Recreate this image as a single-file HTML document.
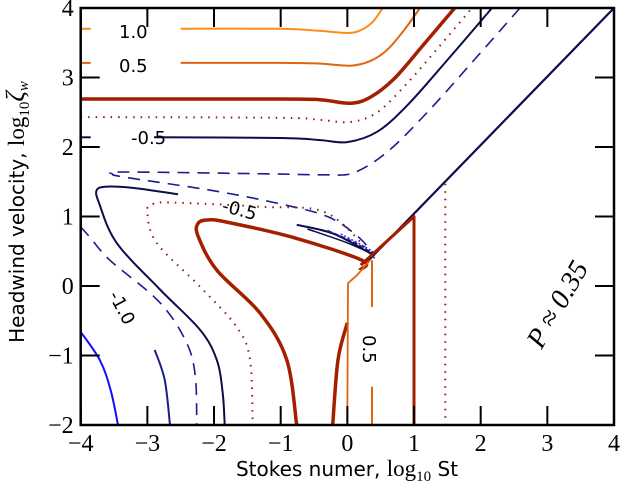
<!DOCTYPE html>
<html><head><meta charset="utf-8"><style>
html,body{margin:0;padding:0;background:#fff;}
svg{display:block;}
.tick{font-family:"Liberation Serif",serif;font-size:24px;fill:#000;}
.ttl{font-family:"DejaVu Sans","Liberation Sans",sans-serif;font-size:20px;fill:#000;}
.lbl{font-family:"DejaVu Sans","Liberation Sans",sans-serif;font-size:18px;fill:#000;}
</style></head><body>
<svg id="chart" width="621" height="488" viewBox="0 0 621 488"></svg>
<script>
// axis ranges
const xDomain = [-4, 4];
const yDomain = [-2, 4];
const xTicks = [-4, -3, -2, -1, 0, 1, 2, 3, 4];
const yTicks = [-2, -1, 0, 1, 2, 3, 4];
// contour lines in data coords [log10 St, log10 zeta]
const c1p0a = [[-4,3.70],[-3.85,3.70]];
const c1p0b = [[-2.5,3.70],[-1,3.70],[-0.41,3.67],[0.0,3.64],[0.2,3.68],[0.38,3.8],[0.53,4.0]];
const c0p5a = [[-4,3.21],[-3.85,3.21]];
const c0p5b = [[-2.5,3.21],[-1,3.21],[-0.41,3.20],[0.05,3.17],[0.35,3.24],[0.6,3.4],[0.85,3.68],[1.09,4.0]];
const cThickTop = [[-4,2.69],[-1,2.69],[-0.41,2.68],[0.05,2.63],[0.35,2.72],[0.7,2.98],[1.15,3.48],[1.61,4.0]];
const cDotTop = [[-4,2.43],[-1,2.42],[-0.41,2.39],[0.05,2.36],[0.45,2.5],[0.9,2.92],[1.4,3.47],[1.87,4.0]];
const cNavyTopA = [[-4,2.14],[-3.85,2.14]];
const cNavyTopB = [[-2.9,2.14],[-1,2.13],[-0.41,2.10],[0.0,2.07],[0.45,2.22],[0.9,2.6],[1.5,3.25],[2.17,4.0]];
const cDashLoop = [[2.59,4.0],[1.9,3.25],[1.2,2.5],[0.6,1.93],[0.1,1.63],[-0.3,1.60],[-1,1.61],[-3.3,1.64],[-3.52,1.61],[-3.3,1.56],[-2.0,1.37],[-1.0,1.18],[-0.3,1.0],[0.15,0.72],[0.4,0.45]];
const cNavyLoopA = [[0.38,0.45],[-0.2,0.75],[-0.76,0.88]];
const cNavyLoopB = [[-2.54,1.32],[-3.2,1.41],[-3.6,1.43],[-3.76,1.38],[-3.72,1.18],[-3.46,0.62],[-2.81,-0.05],[-2.21,-0.63],[-1.96,-1.06],[-1.87,-1.54],[-1.84,-2.0]];
const cDashLeft = [[-4,0.85],[-3.86,0.70],[-3.56,0.37],[-2.81,-0.24],[-2.41,-0.82],[-2.28,-1.31],[-2.26,-2.0]];
const cBlue1 = [[-4,-0.66],[-3.71,-1.07],[-3.55,-1.5],[-3.44,-2.0]];
const cBlue2 = [[-2.89,-0.92],[-2.74,-1.35],[-2.66,-2.0]];
const cDotLoop = [[0.41,0.40],[-0.31,1.05],[-1.31,1.14],[-2.6,1.2],[-2.92,1.18],[-3.0,1.06],[-2.86,0.62],[-2.21,-0.01],[-1.66,-0.59],[-1.46,-1.06],[-1.42,-2.0]];
const cThickLoop = [[0.19,0.23],[0.22,0.37],[-0.82,0.70],[-1.81,0.92],[-2.1,0.95],[-2.24,0.9],[-2.24,0.72],[-1.96,0.23],[-1.31,-0.39],[-0.91,-1.06],[-0.76,-2.0]];
const cThickInner = [[-0.22,-2.0],[-0.14,-1.06],[0.0,-0.53]];
const cThickDiag = [[0.2,0.3],[1.0,1.0],[1.0,-2.0]];
const cOrange1 = [[0.0,-2.0],[0.01,0.04],[0.15,0.16],[0.34,0.37]];
const cOrange2a = [[0.37,0.37],[0.37,-0.3]];
const cOrange2b = [[0.37,-1.45],[0.37,-2.0]];
const cDotVert = [[1.47,1.47],[1.47,-2.0]];
const cDiag = [[0.3,0.35],[4.0,4.0]];
const cFan1 = [[-0.6,0.82],[0.0,0.62],[0.4,0.45]];
const cFan2 = [[-0.3,0.8],[0.1,0.63],[0.4,0.46]];
const cFan3 = [[-0.1,0.75],[0.2,0.6],[0.42,0.47]];

const L=80.7, R=614, T=8, B=425;
function xs(v){return L+(v-xDomain[0])/(xDomain[1]-xDomain[0])*(R-L);}
function ys(v){return B-(v-yDomain[0])/(yDomain[1]-yDomain[0])*(B-T);}
const svg=document.getElementById('chart');
const NS='http://www.w3.org/2000/svg';
function mk(tag,attrs){const e=document.createElementNS(NS,tag);for(const k in attrs)e.setAttribute(k,attrs[k]);svg.appendChild(e);return e;}
function smoothPath(pts){
  const p=pts.map(q=>[xs(q[0]),ys(q[1])]);
  let d='M'+p[0][0].toFixed(1)+','+p[0][1].toFixed(1);
  for(let i=0;i<p.length-1;i++){
    const p0=p[Math.max(i-1,0)],p1=p[i],p2=p[i+1],p3=p[Math.min(i+2,p.length-1)];
    const c1=[p1[0]+(p2[0]-p0[0])/6,p1[1]+(p2[1]-p0[1])/6];
    const c2=[p2[0]-(p3[0]-p1[0])/6,p2[1]-(p3[1]-p1[1])/6];
    d+='C'+c1[0].toFixed(1)+','+c1[1].toFixed(1)+' '+c2[0].toFixed(1)+','+c2[1].toFixed(1)+' '+p2[0].toFixed(1)+','+p2[1].toFixed(1);
  }
  return d;
}
function line(pts,color,w,dash,name,straight){
  const d=straight?('M'+pts.map(q=>xs(q[0]).toFixed(1)+','+ys(q[1]).toFixed(1)).join('L')):smoothPath(pts);
  const e=mk('path',{d:d,fill:'none',stroke:color,'stroke-width':w,'stroke-linejoin':'round'});
  if(dash)e.setAttribute('stroke-dasharray',dash);
  
  
}
const ORA='#ff8c1a', ORD='#e0650f', RED='#a31f00', NAV='#0d0d4d', DBL='#1c1c8c', BLU='#1010ff', DOT='#8b1a10';
line(c1p0a,ORA,2,null,'contour-1p0');
line(c1p0b,ORA,2,null,'contour-1p0');
line(c0p5a,ORD,2,null,'contour-0p5');
line(c0p5b,ORD,2,null,'contour-0p5');
line(cThickTop,RED,3.5,null,'contour-0-top');
line(cDotTop,DOT,2,'1.5,6','contour-dotted-top');
line(cNavyTopA,NAV,2,null,'contour-neg0p5-top');
line(cNavyTopB,NAV,2,null,'contour-neg0p5-top');
line(cDashLoop,DBL,1.6,'12,8','contour-dashed-loop');
line(cNavyLoopA,NAV,2,null,'contour-neg0p5-loop');
line(cNavyLoopB,NAV,2,null,'contour-neg0p5-loop');
line(cDashLeft,DBL,1.6,'12,8','contour-dashed-left');
line(cBlue1,BLU,2,null,'contour-blue-1');
line(cBlue2,DBL,2,null,'contour-blue-2');
line(cDotLoop,DOT,2,'1.5,6','contour-dotted-loop');
line(cThickLoop,RED,3.5,null,'contour-0-loop');
line(cThickInner,RED,3.5,null,'contour-0-inner');
line(cFan1,NAV,1.5,null,'contour-fan');
line(cFan2,DBL,1.5,'5,2','contour-fan');
line(cFan3,BLU,1.2,'2,2','contour-fan');
line(cDiag,NAV,2.2,null,'diagonal-line',true);
line(cThickDiag,RED,3,null,'contour-0-diagonal',true);
line(cOrange1,ORD,1.8,null,'contour-orange-vertical',true);
line(cOrange2a,ORD,2,null,'contour-0p5-vertical',true);
line(cOrange2b,ORD,2,null,'contour-0p5-vertical',true);
line(cDotVert,DOT,2,'1.5,6','contour-dotted-vertical',true);

// axes frame
const fr=mk('rect',{x:L,y:T,width:R-L,height:B-T,fill:'none',stroke:'#000','stroke-width':2.5});


xTicks.forEach(v=>{
  const x=xs(v);
  const t1=mk('line',{x1:x,y1:B,x2:x,y2:B-19,stroke:'#000','stroke-width':2});
  
  
  const t2=mk('line',{x1:x,y1:T,x2:x,y2:T+19,stroke:'#000','stroke-width':2});
  
  
  const tx=mk('text',{x:x,y:B+26,'text-anchor':'middle',class:'tick'});
  tx.textContent=(v<0?'\u2212':'')+Math.abs(v);
  
  
});
yTicks.forEach(v=>{
  const y=ys(v);
  const t1=mk('line',{x1:L,y1:y,x2:L+19,y2:y,stroke:'#000','stroke-width':2});
  
  
  const t2=mk('line',{x1:R,y1:y,x2:R-19,y2:y,stroke:'#000','stroke-width':2});
  
  
  const tx=mk('text',{x:L-7,y:y+8,'text-anchor':'end',class:'tick'});
  tx.textContent=(v<0?'\u2212':'')+Math.abs(v);
  
  
});
</script>
<svg width="621" height="488" style="position:absolute;left:0;top:0;pointer-events:none">
  <text class="lbl" x="119" y="38">1.0</text>
  <text class="lbl" x="119" y="72">0.5</text>
  <text class="lbl" x="131" y="144">-0.5</text>
  <text class="lbl" x="222" y="216" transform="rotate(15 240 210)">-0.5</text>
  <text class="lbl" x="106" y="313" transform="rotate(62 122 306)">-1.0</text>
  <text class="lbl" x="357" y="355" transform="rotate(90 370 348)">0.5</text>
  <text x="500" y="322" transform="rotate(-60 545 300)" style="font-family:'Liberation Serif',serif;font-size:28px;font-style:italic">P ≈ 0.35</text>
  <text class="ttl" x="347" y="476" text-anchor="middle">Stokes numer, <tspan style="font-family:'Liberation Serif',serif;font-size:23px">log</tspan><tspan style="font-family:'Liberation Serif',serif;font-size:15px" dy="5">10</tspan><tspan dy="-5"> St</tspan></text>
  <text class="ttl" x="0" y="0" text-anchor="middle" transform="translate(24,212) rotate(-90)">Headwind velocity, <tspan style="font-family:'Liberation Serif',serif;font-size:23px">log</tspan><tspan style="font-family:'Liberation Serif',serif;font-size:15px" dy="5">10</tspan><tspan dy="-5" style="font-family:'Liberation Serif',serif;font-size:26px;font-style:italic">ζ</tspan><tspan style="font-family:'Liberation Serif',serif;font-size:15px;font-style:italic" dy="4">w</tspan></text>
</svg>
</body></html>
